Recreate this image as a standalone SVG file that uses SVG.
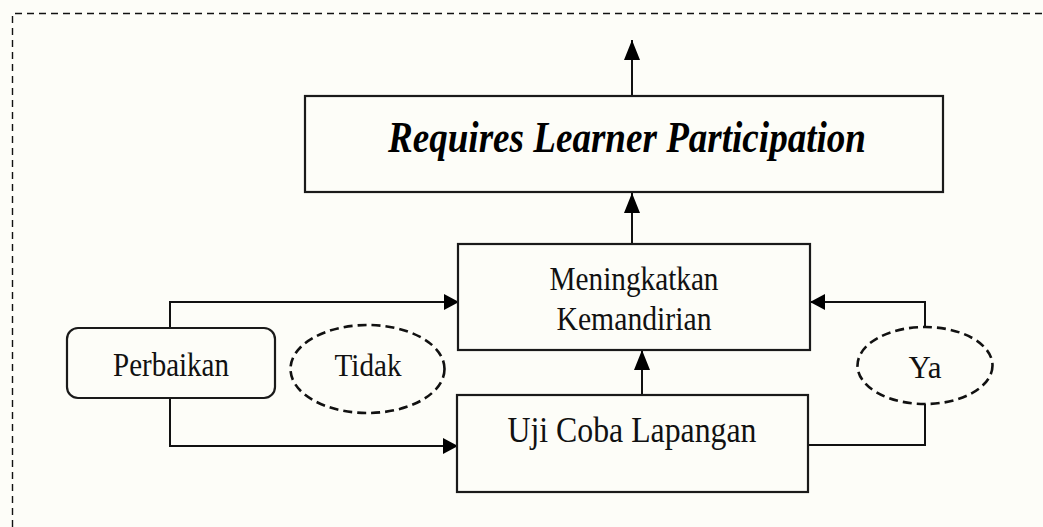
<svg xmlns="http://www.w3.org/2000/svg" width="1043" height="527" viewBox="0 0 1043 527">
<defs>
<marker id="ah" viewBox="0 0 15 16" refX="15" refY="8" markerWidth="15" markerHeight="16" markerUnits="userSpaceOnUse" orient="auto">
<path d="M0,0 L15,8 L0,16 Z" fill="#000"/>
</marker>
<marker id="ahv" viewBox="0 0 20 16" refX="20" refY="8" markerWidth="20" markerHeight="16" markerUnits="userSpaceOnUse" orient="auto">
<path d="M0,0 L20,8 L0,16 Z" fill="#000"/>
</marker>
</defs>
<style>
.box{fill:none;stroke:#1a1a1a;stroke-width:2.2}
.ell{fill:none;stroke:#111;stroke-width:2.6;stroke-dasharray:9 5}
.con{fill:none;stroke:#111;stroke-width:2}
.t{font-family:"Liberation Serif","Times New Roman",serif;fill:#111;text-anchor:middle}
.ti{font-family:"Liberation Serif","Times New Roman",serif;font-weight:bold;font-style:italic;fill:#000;text-anchor:middle}
</style>
<rect width="1043" height="527" fill="#fdfdf8"/>
<path d="M12.5,527 L12.5,13.5 L1043,13.5" fill="none" stroke="#111" stroke-width="1.4" stroke-dasharray="7 5"/>
<g id="connectors">
<path class="con" d="M632,96 L632,40" marker-end="url(#ahv)"/>
<path class="con" d="M632,244 L632,193" marker-end="url(#ahv)"/>
<path class="con" d="M642,395 L642,350" marker-end="url(#ahv)"/>
<path class="con" d="M170,328 L170,302 L459,302" marker-end="url(#ah)"/>
<path class="con" d="M170,398 L170,446 L458,446" marker-end="url(#ah)"/>
<path class="con" d="M808,445 L925,445 L925,404"/>
<path class="con" d="M925,327 L925,302 L810,302" marker-end="url(#ah)"/>
</g>
<g id="requires">
<rect class="box" x="305" y="96" width="638" height="96"/>
<text class="ti" x="627" y="152" font-size="45" textLength="478" lengthAdjust="spacingAndGlyphs">Requires Learner Participation</text>
</g>
<g id="meningkatkan">
<rect class="box" x="458" y="244" width="352" height="106"/>
<text class="t" x="634" y="290" font-size="33" textLength="169" lengthAdjust="spacingAndGlyphs">Meningkatkan</text>
<text class="t" x="634" y="330" font-size="33" textLength="155" lengthAdjust="spacingAndGlyphs">Kemandirian</text>
</g>
<g id="ujicoba">
<rect class="box" x="457" y="395" width="351" height="97"/>
<text class="t" x="632" y="442" font-size="36" textLength="249" lengthAdjust="spacingAndGlyphs">Uji Coba Lapangan</text>
</g>
<g id="perbaikan">
<rect class="box" x="67" y="328" width="208" height="70" rx="11"/>
<text class="t" x="171" y="376" font-size="34" textLength="116" lengthAdjust="spacingAndGlyphs">Perbaikan</text>
</g>
<g id="tidak">
<ellipse class="ell" cx="367.5" cy="369" rx="77" ry="44"/>
<text class="t" x="368" y="376" font-size="32" textLength="67" lengthAdjust="spacingAndGlyphs">Tidak</text>
</g>
<g id="ya">
<ellipse class="ell" cx="925" cy="365.5" rx="67.5" ry="38.5"/>
<text class="t" x="925" y="378" font-size="32" textLength="33" lengthAdjust="spacingAndGlyphs">Ya</text>
</g>
</svg>
